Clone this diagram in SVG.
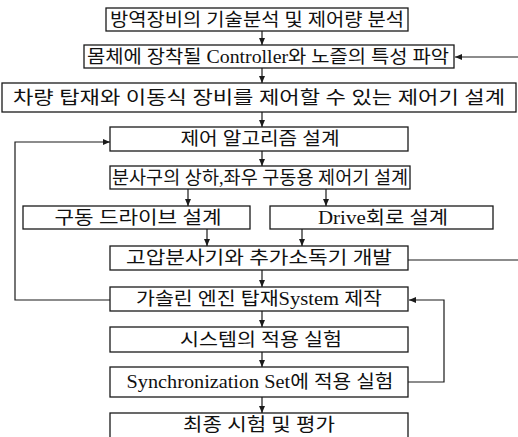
<svg xmlns="http://www.w3.org/2000/svg" width="518" height="437" viewBox="0 0 518 437">
<style>
rect.b{fill:#fff;stroke:#1a1a1a;stroke-width:1.3}
text{font-family:"Liberation Serif","Noto Sans CJK KR",serif;font-size:18px;fill:#111;text-anchor:middle;dominant-baseline:central}
.c{fill:none;stroke:#1a1a1a;stroke-width:1.2}
</style>
<defs>
<marker id="ah" markerWidth="8" markerHeight="8" refX="7" refY="4" orient="auto" markerUnits="userSpaceOnUse">
<path d="M0,1 L7,4 L0,7 Z" fill="#1a1a1a"/>
</marker>
</defs>
<rect width="518" height="437" fill="#fff"/>
<g id="connectors">
<line class="c" x1="262" y1="31" x2="262" y2="45" marker-end="url(#ah)"/>
<line class="c" x1="262" y1="68" x2="262" y2="83" marker-end="url(#ah)"/>
<line class="c" x1="262" y1="112" x2="262" y2="127" marker-end="url(#ah)"/>
<line class="c" x1="262" y1="151" x2="262" y2="166" marker-end="url(#ah)"/>
<line class="c" x1="188" y1="189" x2="188" y2="206" marker-end="url(#ah)"/>
<line class="c" x1="326" y1="189" x2="326" y2="206" marker-end="url(#ah)"/>
<line class="c" x1="207" y1="229" x2="207" y2="246" marker-end="url(#ah)"/>
<line class="c" x1="302" y1="229" x2="302" y2="246" marker-end="url(#ah)"/>
<line class="c" x1="262" y1="270" x2="262" y2="287" marker-end="url(#ah)"/>
<line class="c" x1="262" y1="311" x2="262" y2="327" marker-end="url(#ah)"/>
<line class="c" x1="262" y1="352" x2="262" y2="367" marker-end="url(#ah)"/>
<line class="c" x1="262" y1="397" x2="262" y2="413" marker-end="url(#ah)"/>
<line class="c" x1="518" y1="57" x2="455" y2="57" marker-end="url(#ah)"/>
<line class="c" x1="408" y1="260" x2="518" y2="260"/>
<polyline class="c" points="110,300 15,300 15,142 110,142" marker-end="url(#ah)"/>
<polyline class="c" points="408,382 444,382 444,300 409,300" marker-end="url(#ah)"/>
</g>
<g id="n1"><rect class="b" x="106" y="8" width="302" height="23"/><text x="257" y="20" textLength="294" lengthAdjust="spacingAndGlyphs">방역장비의 기술분석 및 제어량 분석</text></g>
<g id="n2"><rect class="b" x="84" y="45" width="370" height="23"/><text x="268" y="57" textLength="362" lengthAdjust="spacingAndGlyphs">몸체에 장착될 Controller와 노즐의 특성 파악</text></g>
<g id="n3"><rect class="b" x="2" y="83" width="514" height="29"/><text x="259" y="98" textLength="492" lengthAdjust="spacingAndGlyphs">차량 탑재와 이동식 장비를 제어할 수 있는 제어기 설계</text></g>
<g id="n4"><rect class="b" x="110" y="127" width="298" height="24"/><text x="260" y="139" textLength="159" lengthAdjust="spacingAndGlyphs">제어 알고리즘 설계</text></g>
<g id="n5"><rect class="b" x="110" y="166" width="300" height="23"/><text x="260" y="178" textLength="296" lengthAdjust="spacingAndGlyphs">분사구의 상하,좌우 구동용 제어기 설계</text></g>
<g id="n6"><rect class="b" x="23" y="206" width="227" height="23"/><text x="138" y="218" textLength="167" lengthAdjust="spacingAndGlyphs">구동 드라이브 설계</text></g>
<g id="n7"><rect class="b" x="270" y="206" width="223" height="23"/><text x="383" y="218" textLength="130" lengthAdjust="spacingAndGlyphs">Drive회로 설계</text></g>
<g id="n8"><rect class="b" x="110" y="246" width="298" height="24"/><text x="259" y="258" textLength="266" lengthAdjust="spacingAndGlyphs">고압분사기와 추가소독기 개발</text></g>
<g id="n9"><rect class="b" x="110" y="287" width="298" height="24"/><text x="259" y="299" textLength="246" lengthAdjust="spacingAndGlyphs">가솔린 엔진 탑재System 제작</text></g>
<g id="n10"><rect class="b" x="110" y="327" width="298" height="25"/><text x="261" y="340" textLength="162" lengthAdjust="spacingAndGlyphs">시스템의 적용 실험</text></g>
<g id="n11"><rect class="b" x="110" y="367" width="298" height="30"/><text x="260" y="382" textLength="267" lengthAdjust="spacingAndGlyphs">Synchronization Set에 적용 실험</text></g>
<g id="n12"><rect class="b" x="110" y="413" width="298" height="30"/><text x="259" y="425" textLength="152" lengthAdjust="spacingAndGlyphs">최종 시험 및 평가</text></g>
</svg>
